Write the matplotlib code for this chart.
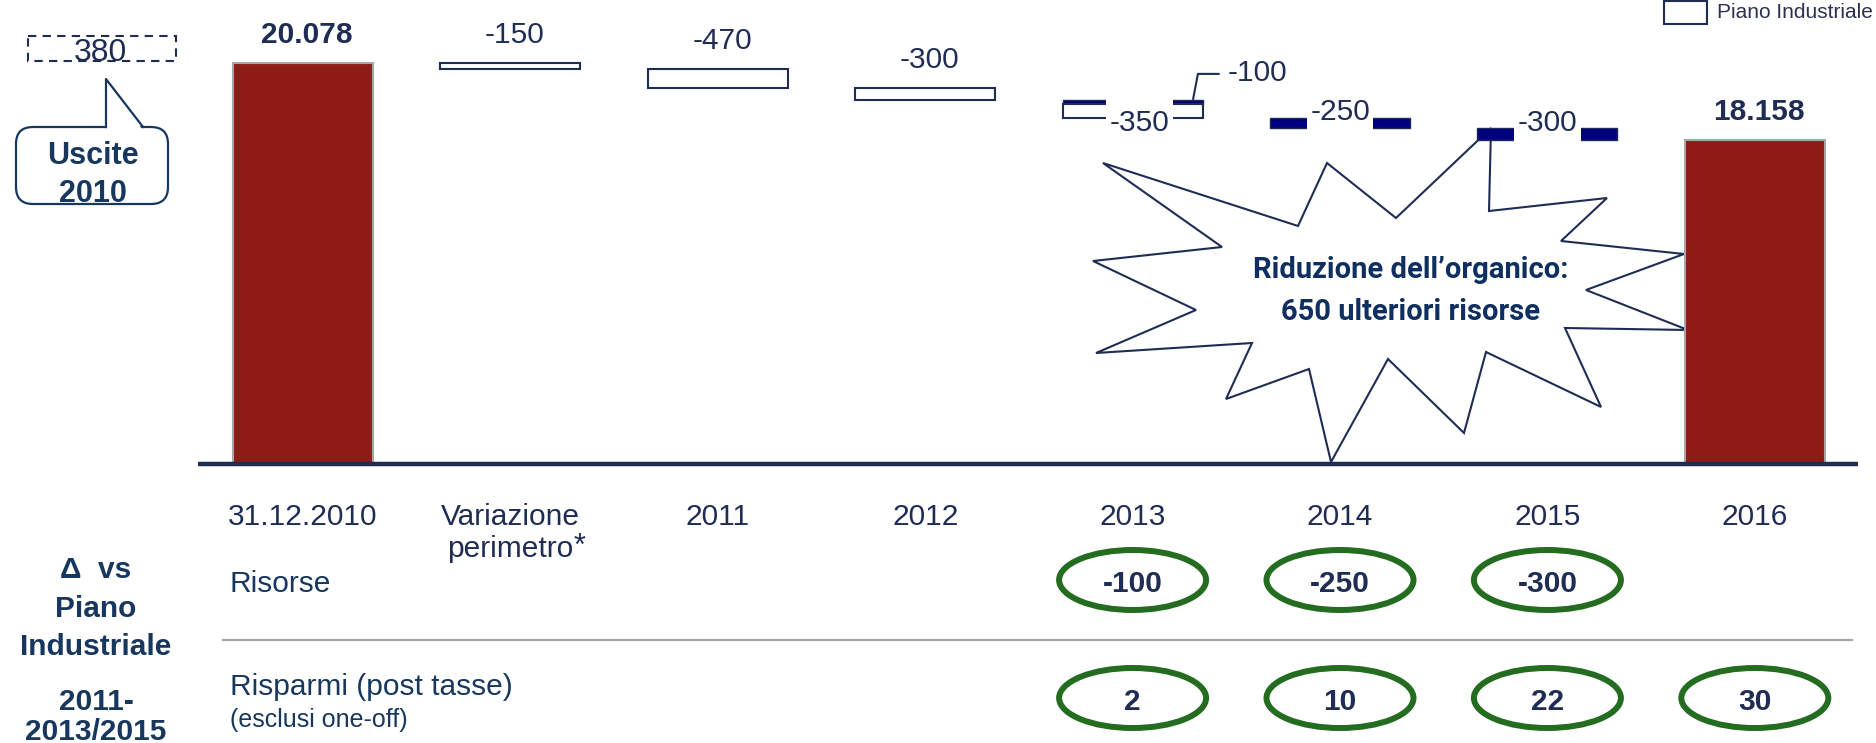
import matplotlib.pyplot as plt
from matplotlib.patches import Rectangle, Ellipse, Polygon, FancyBboxPatch
from matplotlib.transforms import blended_transform_factory

plt.rcParams['font.family'] = ['Liberation Sans', 'DejaVu Sans']

# data
categories = ["31.12.2010", "Variazione", "2011", "2012", "2013", "2014", "2015", "2016"]
start_total = 20078
end_total = 18158
plan_steps = [-150, -470, -300, -350, 0, 0]      # Piano Industriale (white boxes)
extra_steps = [0, 0, 0, -100, -250, -300]        # ulteriori riduzioni (navy)
table_cols = [4, 5, 6, 7]
risorse = ["-100", "-250", "-300", ""]
risparmi = ["2", "10", "22", "30"]
uscite_2010 = 380

# colours
NAVY = "#1f2d55"
BLUE_TXT = "#17375e"
RED = "#8e1b15"
DARK_BLUE = "#000080"
GREEN = "#246c1f"

# layout (pixels of the 1876x743 canvas)
W, H = 1876, 743
BASE_PX = 464          # baseline row
X0_PX, STEP_PX = 303, 207.4
K = 0.0401             # px per unit
Y_FLOOR = 10078

fig = plt.figure(figsize=(18.76, 7.43), dpi=100)
ov = fig.add_axes([0, 0, 1, 1], zorder=0)
ov.set_xlim(0, W)
ov.set_ylim(H, 0)
ov.axis('off')

ax = fig.add_axes([0, 1 - BASE_PX / H, 1, BASE_PX / H], zorder=2)
ax.patch.set_visible(False)
ax.axis('off')
ax.set_xlim(-X0_PX / STEP_PX, (W - X0_PX) / STEP_PX)
ax.set_ylim(Y_FLOOR, Y_FLOOR + BASE_PX / K)

def dy(px):
    return px / K

bw = 140 / STEP_PX

# starburst (behind the bars)
star = [(1103, 163), (1298, 226), (1327, 163), (1396, 218), (1491, 128), (1489, 211),
        (1607, 198), (1561, 241), (1684, 254), (1586, 290), (1688, 330), (1565, 328),
        (1601, 407), (1486, 352), (1464, 433), (1388, 359), (1331, 462), (1309, 369),
        (1226, 399), (1252, 343), (1096, 353), (1196, 310), (1093, 261), (1222, 247)]
ov.add_patch(Polygon(star, closed=True, facecolor='white', edgecolor=NAVY, lw=1.5))
ov.text(1411, 278, "Riduzione dell\u2019organico:", ha='center', va='baseline',
        fontsize=21, fontweight='bold', color="#0e2f5f", family=['Roboto', 'DejaVu Sans'])
ov.text(1411, 320, "650 ulteriori risorse", ha='center', va='baseline',
        fontsize=21, fontweight='bold', color="#0e2f5f", family=['Roboto', 'DejaVu Sans'])

# total bars
ax.bar([0, 7], [start_total, end_total], width=bw, color=RED, edgecolor='#a6a6a6', lw=1.5, zorder=2)
for i, v in [(0, start_total), (7, end_total)]:
    ax.annotate(f"{v:,}".replace(",", "."), xy=(i, v), xytext=(3, 14.5), textcoords='offset points',
                ha='center', va='baseline', fontsize=21.5, fontweight='bold', color=NAVY)

# waterfall steps
level = start_total
tops = []
for j, (p, e) in enumerate(zip(plan_steps, extra_steps)):
    i = j + 1
    tops.append(level)
    if e:
        ax.bar(i, e, bottom=level, width=bw, color=DARK_BLUE, edgecolor=NAVY, lw=1.0, zorder=3)
    if p:
        ax.bar(i, p, bottom=level + e, width=bw, color='white', edgecolor=NAVY, lw=1.5, zorder=3)
    level += p + e

lab = dict(fontsize=21.5, color=NAVY, zorder=5)
box = dict(boxstyle='square,pad=0.12', facecolor='white', edgecolor='none', mutation_aspect=2)
tall_box = dict(boxstyle='square,pad=0.12', facecolor='white', edgecolor='none', mutation_aspect=3)
for j in range(3):
    ax.annotate(str(plan_steps[j]), xy=(j + 1, tops[j]), xytext=(3, 14.5), textcoords='offset points',
                ha='center', va='baseline', **lab)

# 2013: plan label inside, extra label with leader
i = 4
top = tops[3]
ax.text(i + 7 / STEP_PX, top + extra_steps[3] + plan_steps[3] - dy(13), str(plan_steps[3]),
        ha='center', va='baseline', bbox=tall_box, **lab)
ax.plot([i + 0.291, i + 0.315, i + 0.42], [top, top + dy(26), top + dy(26)], color=NAVY, lw=1.5,
        zorder=4, solid_capstyle='butt')
ax.text(i + 0.46, top + dy(19), str(extra_steps[3]), ha='left', va='baseline', **lab)

# 2014, 2015: extra only
for j in (4, 5):
    mid = tops[j] + extra_steps[j] / 2
    ax.text(j + 1, mid + dy(3), str(extra_steps[j]), ha='center', va='baseline', bbox=box, **lab)

# baseline
ax.hlines(Y_FLOOR, -0.506, 7.497, color=NAVY, lw=3.2, clip_on=False, zorder=4)

# category labels under the axis
tr = blended_transform_factory(ax.transData, ov.transData)
for i, c in enumerate(categories):
    ov.text(i, 525, c, transform=tr, ha='center', va='baseline', fontsize=21.5, color=NAVY)
ov.text(1, 557, "perimetro", transform=tr, ha='center', va='baseline', fontsize=21.5, color=NAVY)
ov.text(574, 555, "*", ha='left', va='baseline', fontsize=22, color=NAVY)

# table rows
ov.text(230, 592, "Risorse", ha='left', va='baseline', fontsize=21.5, color=BLUE_TXT)
ov.text(230, 695, "Risparmi (post tasse)", ha='left', va='baseline', fontsize=21.5, color=BLUE_TXT)
ov.text(230, 727, "(esclusi one-off)", ha='left', va='baseline', fontsize=18, color=BLUE_TXT)
ov.plot([223, 1852], [640, 640], color='#a6a6a6', lw=1.6)

for c, r, s in zip(table_cols, risorse, risparmi):
    for val, yc, yb in [(r, 580, 592), (s, 698, 710)]:
        if not val:
            continue
        ov.add_patch(Ellipse((c, yc), width=147 / STEP_PX, height=60, transform=tr,
                             facecolor='none', edgecolor=GREEN, lw=4.3))
        ov.text(c, yb, val, transform=tr, ha='center', va='baseline', fontsize=21.5,
                fontweight='bold', color=NAVY)

# left side: Delta vs Piano Industriale
for txt, yb in [("\u0394  vs", 578), ("Piano", 617), ("Industriale", 655), ("2011-", 710), ("2013/2015", 740)]:
    ov.text(96, yb, txt, ha='center', va='baseline', fontsize=21.5, fontweight='bold', color=BLUE_TXT)

# speech bubble "Uscite 2010"
ov.add_patch(FancyBboxPatch((16, 127), 152, 77, boxstyle="round,pad=0,rounding_size=17",
                            facecolor='white', edgecolor=BLUE_TXT, lw=1.6))
ov.add_patch(Polygon([(107, 129), (106, 79), (142, 129)], closed=True, facecolor='white', edgecolor='none'))
ov.plot([106, 106, 143], [127, 79, 127], color=BLUE_TXT, lw=1.6)
ov.text(93, 164, "Uscite", ha='center', va='baseline', fontsize=22, fontweight='bold', color=BLUE_TXT)
ov.text(93, 202, "2010", ha='center', va='baseline', fontsize=22, fontweight='bold', color=BLUE_TXT)

ov.add_patch(Rectangle((28, 36), 148, 25, facecolor='none', edgecolor=NAVY, lw=1.5, linestyle=(0, (4, 3))))
ov.text(100, 61, str(uscite_2010), ha='center', va='baseline', fontsize=23, color=NAVY)

# legend
ov.add_patch(Rectangle((1664, 1), 43, 23, facecolor='white', edgecolor=NAVY, lw=1.5))
ov.text(1717, 13, "Piano Industriale", ha='left', va='center', fontsize=15, color="#2b3150")

fig.savefig("out.png", dpi=100)
